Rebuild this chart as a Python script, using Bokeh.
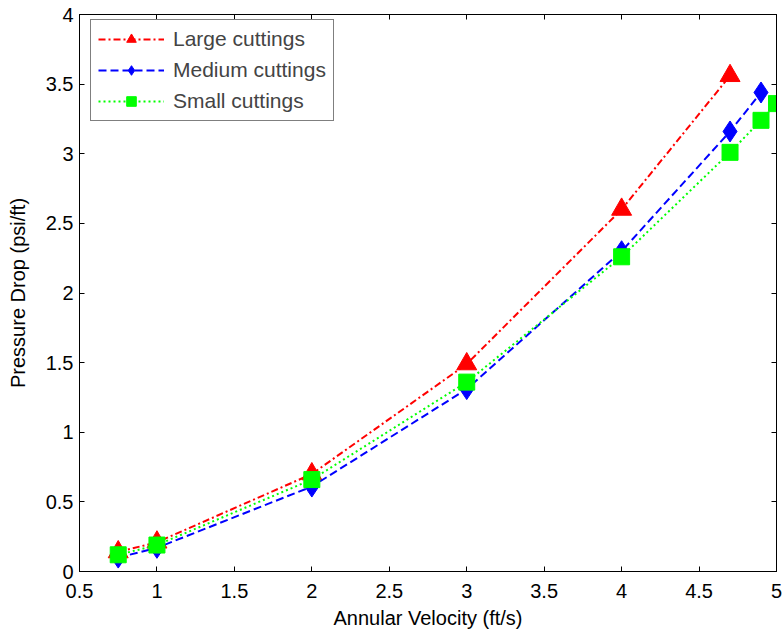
from bokeh.plotting import figure
from bokeh.models import LinearAxis, FixedTicker, Range1d
from bokeh.embed import file_html
from bokeh.resources import INLINE

# Data
large_x = [0.75, 1, 2, 3, 4, 4.7]
large_y = [0.14, 0.21, 0.70, 1.49, 2.60, 3.56]
medium_x = [0.75, 1, 2, 3, 4, 4.7, 4.9]
medium_y = [0.10, 0.17, 0.61, 1.31, 2.30, 3.16, 3.44]
small_x = [0.75, 1, 2, 3, 4, 4.7, 4.9, 5]
small_y = [0.12, 0.19, 0.66, 1.36, 2.26, 3.01, 3.24, 3.36]

x_ticks = [0.5, 1, 1.5, 2, 2.5, 3, 3.5, 4, 4.5, 5]
x_tick_labels = ["0.5", "1", "1.5", "2", "2.5", "3", "3.5", "4", "4.5", "5"]
y_ticks = [0, 0.5, 1, 1.5, 2, 2.5, 3, 3.5, 4]
y_tick_labels = ["0", "0.5", "1", "1.5", "2", "2.5", "3", "3.5", "4"]

FONT = "Liberation Sans"
FS = "20px"

p = figure(width=784, height=634, output_backend="svg", toolbar_location=None,
           x_range=Range1d(0.5, 5), y_range=Range1d(0, 4),
           min_border_left=79, min_border_right=8, min_border_top=14, min_border_bottom=63)
p.xgrid.visible = False
p.ygrid.visible = False
p.outline_line_color = "black"
p.outline_line_width = 1
p.background_fill_color = "white"

def style_axis(ax, ticks, labels, show_labels=True):
    ax.ticker = FixedTicker(ticks=ticks)
    if show_labels:
        ax.major_label_overrides = {t: l for t, l in zip(ticks, labels)}
    else:
        ax.major_label_overrides = {t: "" for t in ticks}
    ax.major_tick_in = 5
    ax.major_tick_out = 0
    ax.minor_tick_in = 0
    ax.minor_tick_out = 0
    ax.axis_line_color = "black"
    ax.major_tick_line_color = "black"
    ax.major_label_text_font = FONT
    ax.major_label_text_font_size = FS if show_labels else "1px"
    ax.major_label_text_color = "black"
    ax.axis_label_text_font = FONT
    ax.axis_label_text_font_size = FS
    ax.axis_label_text_font_style = "normal"
    ax.axis_label_text_color = "black"

style_axis(p.xaxis[0], x_ticks, x_tick_labels)
style_axis(p.yaxis[0], y_ticks, y_tick_labels)
p.xaxis[0].axis_label = "Annular Velocity (ft/s)"
p.yaxis[0].axis_label = "Pressure Drop (psi/ft)"
p.xaxis[0].major_label_standoff = 12
p.yaxis[0].major_label_standoff = 6
p.xaxis[0].axis_label_standoff = 6
p.yaxis[0].axis_label_standoff = 14

top = LinearAxis()
style_axis(top, x_ticks, x_tick_labels, show_labels=False)
top.major_label_standoff = 0
p.add_layout(top, "above")
right = LinearAxis()
style_axis(right, y_ticks, y_tick_labels, show_labels=False)
right.major_label_standoff = 0
p.add_layout(right, "right")

p.line(large_x, large_y, line_color="#FF0000", line_width=2, line_dash="7 3 2 3", legend_label="Large cuttings")
p.scatter(large_x, large_y, marker="triangle", size=20, fill_color="#FF0000", line_color="#FF0000", legend_label="Large cuttings")
p.line(medium_x, medium_y, line_color="#0000FF", line_width=2, line_dash="8 4", legend_label="Medium cuttings")
p.scatter(medium_x, medium_y, marker="diamond", size=21, fill_color="#0000FF", line_color="#0000FF", legend_label="Medium cuttings")
p.line(small_x, small_y, line_color="#00FF00", line_width=2, line_dash="2 3", legend_label="Small cuttings")
p.scatter(small_x, small_y, marker="square", size=16, fill_color="#00FF00", line_color="#00FF00", legend_label="Small cuttings")

lg = p.legend[0]
lg.location = (11, 450)
lg.margin = 0
lg.border_line_color = "black"
lg.border_line_width = 1
lg.background_fill_alpha = 1
lg.label_text_font = FONT
lg.label_text_font_size = "21px"
lg.glyph_width = 66
lg.glyph_height = 24
lg.label_height = 24
lg.spacing = 7
lg.padding = 7
lg.label_standoff = 9

open("out.html", "w").write(file_html(p, INLINE))
